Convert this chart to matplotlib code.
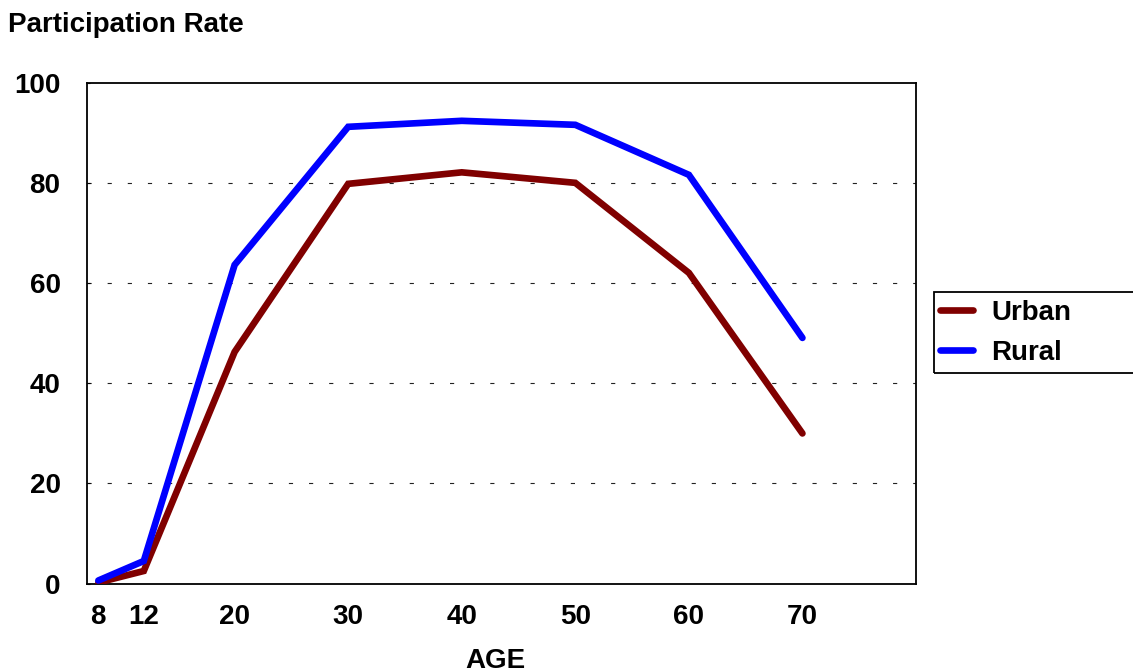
import matplotlib
matplotlib.use("Agg")
import matplotlib.pyplot as plt
from matplotlib.patches import Rectangle

# Labour force participation rate by age
ages = [8, 12, 20, 30, 40, 50, 60, 70]
urban = [0.2, 2.5, 46.3, 79.9, 82.2, 80.1, 62.1, 30.0]
rural = [0.6, 4.5, 63.7, 91.3, 92.5, 91.7, 81.7, 49.1]
y_ticks = [0, 20, 40, 60, 80, 100]
series_names = ["Urban", "Rural"]

plt.rcParams["font.family"] = ["Liberation Sans", "DejaVu Sans"]
plt.rcParams["font.weight"] = "bold"
plt.rcParams["lines.scale_dashes"] = False

FS = 20
W, H = 1133, 672
fig = plt.figure(figsize=(W / 100, H / 100), dpi=100)
ax = fig.add_axes([87 / W, 1 - 583.5 / H, (916 - 87) / W, (583.5 - 83.3) / H])

ax.plot(ages, urban, color="#800000", lw=4.8, solid_capstyle="round",
        solid_joinstyle="miter", label=series_names[0], zorder=3)
ax.plot(ages, rural, color="#0000FF", lw=4.8, solid_capstyle="round",
        solid_joinstyle="miter", label=series_names[1], zorder=3)

ax.set_xlim(7, 80)
ax.set_ylim(0, 100)
ax.set_xticks(ages)
ax.set_yticks(y_ticks)
ax.tick_params(axis="x", length=0, pad=15, labelsize=FS)
ax.tick_params(axis="y", direction="in", length=2.5, width=0.8, pad=19, labelsize=FS)
for lab in ax.get_xticklabels() + ax.get_yticklabels():
    lab.set_fontweight("bold")

# dashed horizontal guides
for v in y_ticks[1:-1]:
    ax.axhline(v, color="#222222", lw=0.8, linestyle=(0, (3, 11.5)), zorder=1)

for s in ax.spines.values():
    s.set_linewidth(1.3)
    s.set_color("black")

ax.set_xlabel("AGE", fontsize=FS, fontweight="bold")
ax.xaxis.set_label_coords((495 - 87) / (916 - 87), -(661 - 583.5) / (583.5 - 83.3))
ax.xaxis.label.set_va("center")

fig.text(8 / W, 1 - 25 / H, "Participation Rate", fontsize=FS, fontweight="bold",
         ha="left", va="center")

# legend outside the plot, framed box running off the right edge
fig.patches.append(Rectangle((934 / W, 1 - 373 / H), (1160 - 934) / W, (373 - 292) / H,
                             transform=fig.transFigure, fill=False, lw=1.3,
                             edgecolor="black", figure=fig))
leg = fig.legend(loc="center left", bbox_to_anchor=(934 / W, 1 - 333 / H),
                 frameon=False, handlelength=1.2, handletextpad=0.65,
                 labelspacing=0.5, borderaxespad=0, borderpad=0.2,
                 prop={"weight": "bold", "size": FS})

fig.savefig("out.png", dpi=100)
